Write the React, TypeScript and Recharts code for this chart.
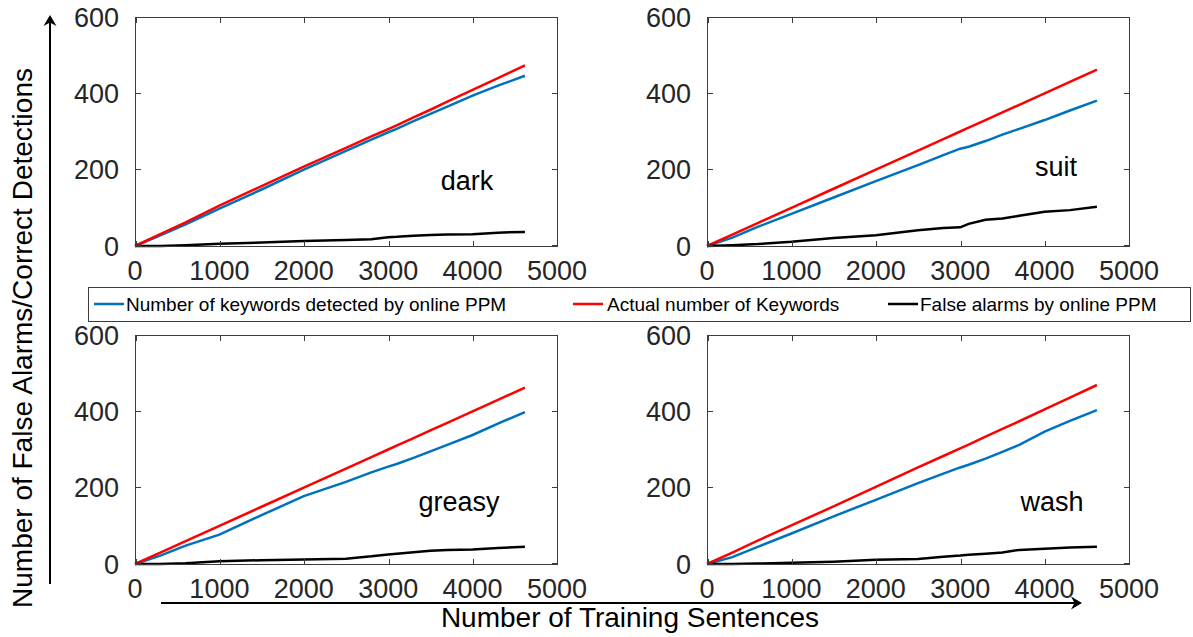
import React from 'react';
import { LineChart, Line, XAxis, YAxis } from 'recharts';

// sample positions (training sentences) shared by every curve
const sentences = [0, 300, 600, 1000, 1500, 2000, 2500, 2800, 3000, 3100, 3300, 3500, 3700, 4000, 4300, 4620];

const darkDetected = [0, 28, 57, 98, 148, 200, 249, 279, 298, 307, 327, 346, 365, 394, 420, 446];
const darkActual = [0, 31, 62, 106, 157, 208, 257, 287, 306, 316, 337, 357, 378, 409, 440, 473];
const darkFalse = [0, 0, 2, 6, 9, 13, 16, 18, 23, 24, 27, 29, 30, 31, 35, 37];

const suitDetected = [0, 22, 50, 84, 127, 170, 212, 238, 255, 260, 275, 292, 307, 330, 355, 381];
const suitActual = [0, 30, 60, 100, 150, 200, 250, 280, 300, 310, 330, 350, 370, 400, 430, 462];
const suitFalse = [0, 2, 5, 11, 21, 28, 41, 47, 49, 58, 69, 72, 79, 90, 94, 103];

const greasyDetected = [0, 22, 48, 77, 128, 178, 215, 240, 255, 262, 278, 295, 312, 338, 368, 398];
const greasyActual = [0, 30, 60, 100, 150, 200, 250, 280, 300, 310, 330, 350, 370, 400, 430, 462];
const greasyFalse = [0, 0, 2, 7, 10, 12, 14, 20, 25, 27, 31, 35, 37, 38, 42, 45];

const washDetected = [0, 18, 45, 80, 125, 168, 212, 237, 253, 260, 276, 294, 312, 347, 375, 403];
const washActual = [0, 30, 61, 101, 151, 202, 253, 283, 303, 313, 334, 354, 374, 405, 436, 469];
const washFalse = [0, 0, 1, 3, 6, 11, 13, 19, 22, 24, 27, 30, 37, 40, 43, 45];

const xTicks = [0, 1000, 2000, 3000, 4000, 5000];
const yTicks = [0, 200, 400, 600];
const X_MAX = 5000;
const Y_MAX = 600;

const seriesNames = ['Number of keywords detected by online PPM', 'Actual number of Keywords', 'False alarms by online PPM'];
const seriesColors = ['#0072BD', '#FF0000', '#000000'];

const FONT = '"Liberation Sans", Arial, Helvetica, sans-serif';
const AXIS = '#3c3c3c';
const PLOT_W = 422;
const PLOT_H = 229;
const LEFT_W = 80;
const TOP_PAD = 20;
const TICK = 5;

const buildRows = (detected: number[], actual: number[], falseAlarms: number[]) =>
  sentences.map((s, i) => ({ s, detected: detected[i], actual: actual[i], falseAlarms: falseAlarms[i] }));

const panels = [
  { word: 'dark', rows: buildRows(darkDetected, darkActual, darkFalse), left: 135, top: 17, labelX: 467, labelY: 190 },
  { word: 'suit', rows: buildRows(suitDetected, suitActual, suitFalse), left: 707, top: 17, labelX: 1056, labelY: 176 },
  { word: 'greasy', rows: buildRows(greasyDetected, greasyActual, greasyFalse), left: 135, top: 335, labelX: 459, labelY: 511 },
  { word: 'wash', rows: buildRows(washDetected, washActual, washFalse), left: 707, top: 335, labelX: 1052, labelY: 511 },
];

const tickStyle = { fill: '#262626', fontSize: 27, fontFamily: FONT };

const Panel = ({ rows, left, top }: { rows: any[]; left: number; top: number }) => (
  <div style={{ position: 'absolute', left: left - LEFT_W, top: top - TOP_PAD }}>
    <LineChart width={LEFT_W + PLOT_W + 45} height={TOP_PAD + PLOT_H + 45} data={rows}
      margin={{ top: TOP_PAD, right: 45, left: 0, bottom: 0 }}>
      <XAxis dataKey="s" type="number" domain={[0, X_MAX]} ticks={xTicks} axisLine={false} tickLine={false}
        tickSize={0} tickMargin={15} height={45} tick={tickStyle} interval={0} />
      <YAxis type="number" domain={[0, Y_MAX]} ticks={yTicks} axisLine={false} tickLine={false}
        tickSize={0} tickMargin={16} width={LEFT_W} tick={tickStyle} interval={0} />
      <Line dataKey="detected" stroke={seriesColors[0]} strokeWidth={2.5} dot={false} isAnimationActive={false} />
      <Line dataKey="actual" stroke={seriesColors[1]} strokeWidth={2.5} dot={false} isAnimationActive={false} />
      <Line dataKey="falseAlarms" stroke={seriesColors[2]} strokeWidth={2.5} dot={false} isAnimationActive={false} />
    </LineChart>
  </div>
);

// box frame (css border) with inward ticks on all four sides
const Frame = ({ left, top }: { left: number; top: number }) => {
  const marks: React.CSSProperties[] = [];
  xTicks.forEach((t) => {
    const x = Math.round((t / X_MAX) * (PLOT_W - 1));
    marks.push({ left: x, bottom: 0, width: 1, height: TICK });
    marks.push({ left: x, top: 0, width: 1, height: TICK });
  });
  yTicks.forEach((t) => {
    const y = Math.round((t / Y_MAX) * (PLOT_H - 1));
    marks.push({ left: 0, bottom: y, width: TICK, height: 1 });
    marks.push({ right: 0, bottom: y, width: TICK, height: 1 });
  });
  return (
    <div style={{ position: 'absolute', left, top, width: PLOT_W + 1, height: PLOT_H + 1,
      border: `1px solid ${AXIS}`, boxSizing: 'border-box', pointerEvents: 'none', zIndex: 3 }}>
      {marks.map((m, i) => (
        <div key={i} style={{ position: 'absolute', background: AXIS, ...m }} />
      ))}
    </div>
  );
};

const legendItems = [
  { line: 94, text: 126 },
  { line: 573, text: 607 },
  { line: 888, text: 920 },
];

export default function App() {
  return (
    <div style={{ position: 'absolute', left: 0, top: 0, width: 1193, height: 637, background: '#fff', fontFamily: FONT }}>
      {panels.map((p) => (
        <Panel key={p.word} rows={p.rows} left={p.left} top={p.top} />
      ))}
      {panels.map((p) => (
        <Frame key={'f' + p.word} left={p.left} top={p.top} />
      ))}
      <svg width={1193} height={637} style={{ position: 'absolute', left: 0, top: 0, pointerEvents: 'none', zIndex: 2 }}>
        {panels.map((p) => (
          <text key={p.word} x={p.labelX} y={p.labelY} textAnchor="middle" fontSize={27} fontFamily={FONT} fill="#000">
            {p.word}
          </text>
        ))}
        {/* legend */}
        <rect x={88.5} y={287.5} width={1102} height={34} fill="#fff" stroke={AXIS} strokeWidth={1} />
        {seriesNames.map((name, i) => (
          <g key={name}>
            <line x1={legendItems[i].line} x2={legendItems[i].line + 30} y1={304} y2={304} stroke={seriesColors[i]} strokeWidth={2.5} />
            <text x={legendItems[i].text} y={311} fontSize={19} fontFamily={FONT} fill="#000">{name}</text>
          </g>
        ))}
        {/* y label + arrow */}
        <text x={32} y={338} transform="rotate(-90 32 338)" textAnchor="middle" fontSize={28} fontFamily={FONT} fill="#000">
          Number of False Alarms/Correct Detections
        </text>
        <line x1={50} y1={584} x2={50} y2={22} stroke="#000" strokeWidth={2} />
        <polygon points="50,15 43.5,26 50,22.5 56.5,26" fill="#000" />
        {/* x label + arrow */}
        <text x={630} y={627} textAnchor="middle" fontSize={28} fontFamily={FONT} fill="#000">
          Number of Training Sentences
        </text>
        <line x1={161} y1={603} x2={1076} y2={603} stroke="#000" strokeWidth={2} />
        <polygon points="1082,603 1071,596.5 1074.5,603 1071,609.5" fill="#000" />
      </svg>
    </div>
  );
}
